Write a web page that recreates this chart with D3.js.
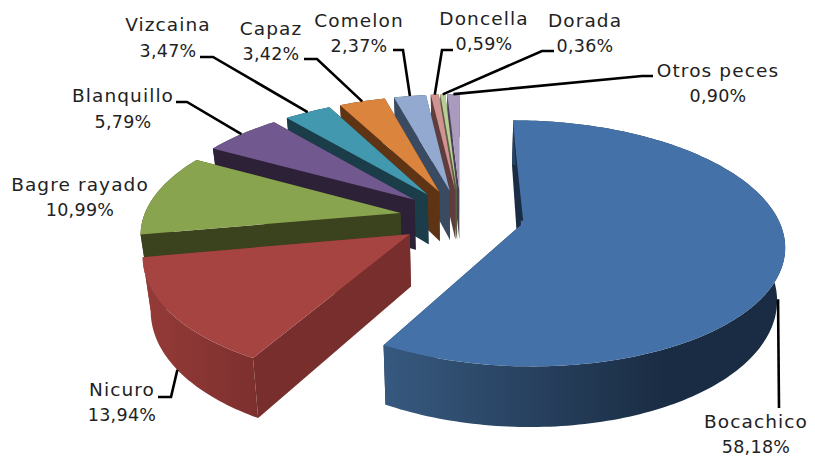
<!DOCTYPE html>
<html>
<head>
<meta charset="utf-8">
<script src="https://cdnjs.cloudflare.com/ajax/libs/d3/7.8.5/d3.min.js"></script>
<style>
  html, body { margin: 0; padding: 0; background: #fff; }
  text { font-family: "DejaVu Sans", sans-serif; font-size: 18.5px; letter-spacing: 1.1px; fill: #222; text-anchor: middle; }
  tspan.pct { font-size: 17.5px; letter-spacing: 0.3px; }
</style>
</head>
<body>
<svg id="chart" width="815" height="458"></svg>
<script>
// values, clockwise from twelve o'clock
var species = ['Bocachico', 'Nicuro', 'Bagre rayado', 'Blanquillo', 'Vizcaina', 'Capaz', 'Comelon', 'Doncella', 'Dorada', 'Otros peces'];
var percents = [58.18, 13.94, 10.99, 5.79, 3.47, 3.42, 2.37, 0.59, 0.36, 0.90];
var percentLabels = ['58,18%', '13,94%', '10,99%', '5,79%', '3,47%', '3,42%', '2,37%', '0,59%', '0,36%', '0,90%'];

var topColors = ['#4472a8', '#a64442', '#89a44e', '#71588f', '#4198af', '#db843d', '#93a9cf', '#d19392', '#b9cd96', '#a99bbd'];
var wallColors = ['#1b2d45', '#772e2c', '#3a431d', '#2d2138', '#1a3d49', '#5f3415', '#3a4a60', '#5f3d3c', '#55603f', '#4a4058'];
var rimColors = [['#37597f', '#1a2c43'], ['#953b38', '#7c302e'], ['#3a431d', '#3a431d'], ['#2d2138', '#2d2138'], ['#1a3d49', '#1a3d49'],
  ['#5f3415', '#5f3415'], ['#3a4a60', '#3a4a60'], ['#5f3d3c', '#5f3d3c'], ['#55603f', '#55603f'], ['#4a4058', '#4a4058']];

// label centre, first baseline, then the leader bend points (the inner end comes from the slice)
var labelX = [756, 122, 80, 123, 168, 271, 359, 484, 585, 718];
var labelY = [428, 396, 191, 102, 31, 35, 27, 25, 27, 77];
var lineGap = [25, 25, 25, 26, 26, 25, 25, 25, 25, 25];
var leaderBends = [
  [[779, 408]],
  [[158, 397], [171, 397]],
  [],
  [[176, 102], [187, 102]],
  [[200, 57], [213, 57]],
  [[304, 59], [317, 59]],
  [[393, 50], [403, 50]],
  [[453, 50], [442, 50]],
  [[554, 51], [542, 51]],
  [[653, 76], [642, 76]]
];
var leaderDepth = [0.8, 1, 0, 0, 0, 0, 0, 0, 0, 0];

// 3d set up: ground plane seen in perspective
var vx = 461, vy = 217.5, radius = 257, squash = 118, depth = 51;
var perspective = 0.15, taper = 0.025, explode = 0.24;

var svg = d3.select('#chart');
var defs = svg.append('defs');

var arcs = d3.pie().sort(null).startAngle(0).endAngle(2 * Math.PI)(percents);

// ground position (X right, Y towards the viewer) and wall fraction to screen
function project(X, Y, f) {
  var s = 1 / (1 - perspective * Y);
  return [vx + radius * X * s * (1 - taper * f), vy + (squash * Y + depth * f) * s];
}

function sliceOrigin(d) {
  var mid = (d.startAngle + d.endAngle) / 2;
  return [explode * Math.sin(mid), -explode * Math.cos(mid)];
}

function rimPoint(d, a, f) {
  var o = sliceOrigin(d);
  return project(o[0] + Math.sin(a), o[1] - Math.cos(a), f);
}

function rimAngles(d) {
  var n = Math.max(2, Math.ceil((d.endAngle - d.startAngle) / 0.02));
  return d3.range(n + 1).map(function (i) { return d.startAngle + (d.endAngle - d.startAngle) * i / n; });
}

var path = d3.line();

// back slices first, Nicuro and Bocachico on top
var order = d3.range(arcs.length).reverse();

order.forEach(function (i) {
  var d = arcs[i], o = sliceOrigin(d), angles = rimAngles(d);
  var g = svg.append('g').attr('class', 'slice');
  var apex0 = project(o[0], o[1], 0), apex1 = project(o[0], o[1], 1);

  [d.endAngle, d.startAngle].forEach(function (a) {
    g.append('path')
      .attr('d', path([apex0, rimPoint(d, a, 0), rimPoint(d, a, 1), apex1]) + 'Z')
      .attr('fill', wallColors[i]);
  });

  var grad = defs.append('linearGradient').attr('id', 'rim' + i);
  grad.append('stop').attr('offset', '0%').attr('stop-color', rimColors[i][0]);
  grad.append('stop').attr('offset', i === 0 ? '70%' : '100%').attr('stop-color', rimColors[i][1]);

  var outer = angles.map(function (a) { return rimPoint(d, a, 0); });
  var lower = angles.map(function (a) { return rimPoint(d, a, 1); }).reverse();
  g.append('path')
    .attr('d', path(outer.concat(lower)) + 'Z')
    .attr('fill', 'url(#rim' + i + ')');

  g.append('path')
    .attr('d', path([apex0].concat(outer)) + 'Z')
    .attr('fill', topColors[i]);

  // the dark sliver showing along the first edge of the big slice
  if (i === 0) {
    var edge = rimPoint(d, d.startAngle, 0);
    g.append('path')
      .attr('d', path([[edge[0], edge[1] + 8], [apex0[0] + 2, apex0[1] - 4], [apex0[0] - 2, apex0[1] - 4]]) + 'Z')
      .attr('fill', wallColors[0]);
  }
});

// leaders
arcs.forEach(function (d, i) {
  if (!leaderBends[i].length) return;
  var mid = (d.startAngle + d.endAngle) / 2;
  svg.append('path')
    .attr('d', path(leaderBends[i].concat([rimPoint(d, mid, leaderDepth[i])])))
    .attr('fill', 'none')
    .attr('stroke', '#000')
    .attr('stroke-width', 2.6);
});

// labels
var labels = svg.selectAll('text.label').data(species).enter().append('text')
  .attr('class', 'label')
  .attr('x', function (d, i) { return labelX[i]; })
  .attr('y', function (d, i) { return labelY[i]; });
labels.append('tspan').text(function (d) { return d; });
labels.append('tspan')
  .attr('class', 'pct')
  .attr('x', function (d, i) { return labelX[i]; })
  .attr('dy', function (d, i) { return lineGap[i]; })
  .text(function (d, i) { return percentLabels[i]; });
</script>
</body>
</html>
